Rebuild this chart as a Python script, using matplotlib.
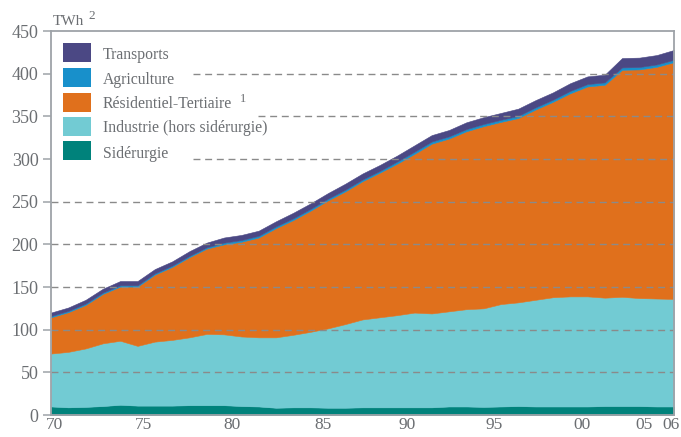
import matplotlib
matplotlib.use("Agg")
import matplotlib.pyplot as plt
from matplotlib.patches import Rectangle

# ---------------- data (TWh) ----------------
years = list(range(1970, 2007))
siderurgie = [10, 9, 9.5, 10.5, 12, 11, 11, 11, 11.5, 11.5, 11.5, 10.5, 10, 8.5, 9, 9,
              8.5, 8.5, 9, 9, 9, 9, 9, 10, 10, 9.5, 10, 10.5, 10, 10, 10, 10, 10.5,
              10.5, 10.5, 10, 10]
industrie = [62, 65, 68.5, 73.5, 75, 70, 75, 77, 79.5, 83.5, 83, 81.5, 81, 82.5, 85,
             88.5, 93, 98, 103, 105.5, 108, 111, 110, 111.5, 114, 115.5, 120, 121.5,
             125, 128, 129, 129, 127, 128, 126.5, 126.5, 126]
residentiel = [42.5, 46.5, 51, 58, 63.5, 69.5, 78.5, 85.5, 94, 100, 105.5, 111, 117,
               128, 134.5, 142, 150, 155.5, 162, 169.5, 177.5, 186, 199, 202.5, 208.5,
               213.5, 213.5, 216, 223, 229, 238, 246, 249.5, 266, 268, 271.5, 277.5]
agriculture = [1.5] * 10 + [2] * 10 + [2.5] * 10 + [2.8] * 7
transports = [4, 4, 4.5, 4.5, 5, 5, 5, 5, 5.5, 5.5, 6, 6, 6, 6, 6.5, 6.5, 6.5, 7, 7, 7,
              7, 7.5, 7.5, 7.5, 8, 8, 8, 8.5, 8.5, 8.5, 9, 9, 9, 11, 11, 11, 11.5]

series_labels = ["Sidérurgie", "Industrie (hors sidérurgie)", "Résidentiel-Tertiaire",
                 "Agriculture", "Transports"]
series_colors = ["#00827b", "#72cbd3", "#e0701c", "#1890cb", "#4b4884"]

yticks = list(range(0, 451, 50))
xtick_labels = ["70", "75", "80", "85", "90", "95", "00", "05", "06"]
xtick_pos = [1970.23, 1975.32, 1980.47, 1985.73, 1990.59, 1995.62, 2000.71, 2004.24, 2005.8]

# ---------------- style ----------------
TXT = "#6b6e72"
SPINE = "#9ea3a8"
GRID = "#8a8a8a"
plt.rcParams["font.family"] = ["Liberation Serif", "DejaVu Serif"]

W, H = 681, 437
fig = plt.figure(figsize=(W / 100, H / 100), dpi=100)
ax = fig.add_axes([51 / W, 22 / H, 623 / W, 384 / H])

polys = ax.stackplot(years, siderurgie, industrie, residentiel, agriculture, transports,
                     colors=series_colors, labels=series_labels, zorder=1)
for p, c in zip(polys, series_colors):
    p.set_edgecolor(c)
    p.set_linewidth(0.4)

ax.set_xlim(1970, 2006)
ax.set_ylim(0, 450)

# dashed horizontal gridlines above the areas (interrupted by the legend block)
grid_start = {400: (193 - 51) / 623, 350: (258 - 51) / 623, 300: (193 - 51) / 623}
for y in yticks[1:-1]:
    ax.axhline(y, xmin=grid_start.get(y, 0), xmax=1, color=GRID, lw=1.0,
               ls=(0, (5, 3.4)), zorder=3)

for s in ax.spines.values():
    s.set_color(SPINE)
    s.set_linewidth(1.3)
    s.set_zorder(4)

ax.set_yticks(yticks)
ax.set_yticklabels([str(v) for v in yticks])
ax.tick_params(axis="y", length=6, width=1.1, color=SPINE, pad=3, labelsize=13,
               labelcolor=TXT)
ax.set_xticks(xtick_pos)
ax.set_xticklabels(xtick_labels)
ax.tick_params(axis="x", length=0, pad=1.5, labelsize=12.5, labelcolor=TXT)

# unit label
fig.text(53 / W, 1 - 25 / H, "TWh", fontsize=11, color=TXT, ha="left", va="baseline")
fig.text(88 / W, 1 - 19 / H, "2", fontsize=9.5, color=TXT, ha="left", va="baseline")

# legend (top to bottom)
legend_rows = [
    ("Transports", series_colors[4], 43, 59),
    ("Agriculture", series_colors[3], 68, 84.5),
    ("Résidentiel-Tertiaire", series_colors[2], 93, 108),
    ("Industrie (hors sidérurgie)", series_colors[1], 117, 132.5),
    ("Sidérurgie", series_colors[0], 141, 158.5),
]
for label, col, top, base in legend_rows:
    fig.patches.append(Rectangle((63 / W, 1 - (top + 19) / H), 28 / W, 19 / H,
                                 transform=fig.transFigure, facecolor=col,
                                 edgecolor="none", zorder=5))
    fig.text(103 / W, 1 - base / H, label, fontsize=11.3, color=TXT, ha="left",
             va="baseline", zorder=6)
fig.text(240 / W, 1 - 102 / H, "1", fontsize=9, color=TXT, ha="left", va="baseline")

fig.savefig("out.png", dpi=100)
